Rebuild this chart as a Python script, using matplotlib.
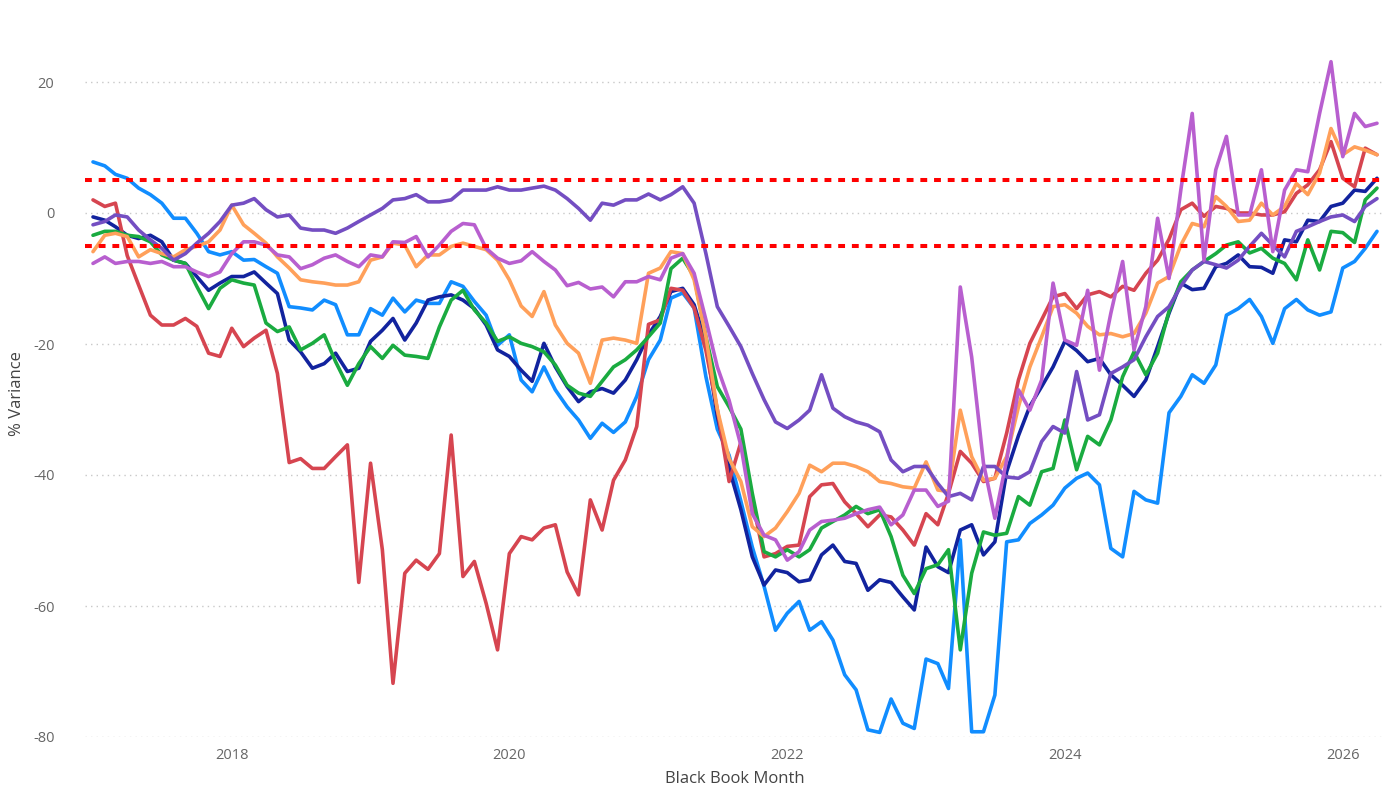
import matplotlib
matplotlib.use('Agg')
import matplotlib.pyplot as plt
import matplotlib.dates as mdates
import pandas as pd

months = pd.date_range('2017-01-01', periods=112, freq='MS')

light_blue = [7.8, 7.2, 5.9, 5.3, 3.8, 2.8, 1.5, -0.8, -0.8, -3.1, -5.9, -6.4, -5.9, -7.2, -7.1, -8.2,
              -9.2, -14.3, -14.5, -14.8, -13.3, -14.0, -18.6, -18.6, -14.6, -15.6, -13.0, -15.1, -13.3, -13.8,
              -13.8, -10.5, -11.2, -13.5, -15.6, -20.2, -18.6, -25.5, -27.3, -23.5, -27.0, -29.6, -31.6, -34.4,
              -32.1, -33.5, -31.9, -28.0, -22.4, -19.4, -13.0, -12.2, -14.5, -25.0, -33.0, -37.0, -44.0, -51.0,
              -57.0, -63.7, -61.1, -59.3, -63.7, -62.4, -65.2, -70.5, -72.8, -78.9, -79.3, -74.2, -77.9, -78.7,
              -68.1, -68.8, -72.6, -49.9, -79.2, -79.2, -73.6, -50.2, -49.9, -47.4, -46.1, -44.6, -42.0, -40.5,
              -39.7, -41.5, -51.2, -52.5, -42.5, -43.8, -44.3, -30.5, -28.0, -24.7, -26.0, -23.2, -15.6, -14.6,
              -13.2, -15.8, -19.9, -14.6, -13.2, -14.8, -15.6, -15.1, -8.4, -7.4, -5.4, -2.8]

navy = [-0.6, -1.1, -2.1, -3.4, -3.9, -3.4, -4.4, -7.2, -7.7, -9.7, -11.8, -10.7, -9.7, -9.7, -9.0, -10.7,
        -12.3, -19.4, -21.2, -23.7, -23.0, -21.4, -24.2, -23.7, -19.6, -17.9, -16.1, -19.4, -16.8, -13.3,
        -12.8, -12.5, -13.3, -14.6, -17.1, -20.9, -21.9, -24.0, -25.7, -19.9, -23.5, -26.5, -28.8, -27.3,
        -26.8, -27.5, -25.5, -22.4, -18.6, -15.8, -12.0, -11.5, -14.0, -19.9, -31.0, -39.0, -45.3, -52.5,
        -56.8, -54.5, -54.9, -56.3, -56.0, -52.2, -50.7, -53.2, -53.5, -57.6, -56.0, -56.4, -58.6, -60.6,
        -51.0, -54.0, -54.9, -48.4, -47.6, -52.2, -50.2, -39.5, -34.0, -29.5, -26.5, -23.5, -19.6, -21.0,
        -22.7, -22.2, -24.7, -26.3, -28.0, -25.5, -20.4, -15.3, -10.7, -11.7, -11.5, -8.2, -7.7, -6.4,
        -8.2, -8.3, -9.2, -4.1, -4.4, -1.1, -1.3, 1.0, 1.5, 3.5, 3.3, 5.3]

green = [-3.4, -2.8, -2.8, -3.4, -3.6, -4.4, -6.4, -7.2, -7.7, -11.2, -14.6, -11.5, -10.2, -10.7, -11.0, -16.8,
         -18.1, -17.4, -20.9, -19.9, -18.6, -22.7, -26.3, -23.0, -20.4, -22.2, -20.2, -21.7, -21.9, -22.2,
         -17.4, -13.3, -11.8, -14.8, -16.8, -19.6, -18.9, -19.9, -20.4, -21.2, -23.2, -26.3, -27.5, -28.0,
         -25.7, -23.5, -22.4, -20.9, -18.9, -16.8, -8.5, -6.9, -9.7, -18.9, -26.5, -29.6, -33.0, -42.8,
         -51.7, -52.5, -51.4, -52.5, -51.4, -48.1, -47.1, -46.1, -44.8, -45.9, -45.3, -49.4, -55.3, -58.1,
         -54.3, -53.7, -51.4, -66.7, -55.0, -48.7, -49.2, -48.9, -43.3, -44.6, -39.5, -39.0, -31.6, -39.2,
         -34.1, -35.4, -31.6, -25.0, -21.2, -24.7, -21.4, -15.0, -10.5, -8.7, -7.4, -6.2, -4.9, -4.4,
         -6.1, -5.4, -6.9, -7.7, -10.2, -4.1, -8.7, -2.8, -3.0, -4.5, 2.0, 3.8]

red = [2.0, 1.0, 1.5, -6.5, -11.0, -15.6, -17.1, -17.1, -16.1, -17.3, -21.4, -21.9, -17.6, -20.4, -19.1, -17.9,
       -24.5, -38.1, -37.5, -39.0, -39.0, -37.2, -35.4, -56.4, -38.2, -51.4, -71.8, -55.0, -53.0, -54.4,
       -52.0, -33.9, -55.5, -53.2, -59.6, -66.7, -52.0, -49.4, -49.9, -48.1, -47.6, -54.8, -58.3, -43.8,
       -48.4, -40.8, -37.7, -32.6, -17.0, -16.3, -11.5, -11.8, -14.5, -21.0, -30.0, -41.0, -35.0, -44.0,
       -52.5, -52.0, -50.9, -50.7, -43.3, -41.5, -41.3, -44.1, -45.9, -47.9, -46.1, -46.4, -48.4, -50.7,
       -45.9, -47.6, -42.8, -36.4, -38.2, -41.0, -40.5, -33.6, -25.5, -19.9, -16.3, -12.8, -12.3, -14.6,
       -12.5, -12.0, -12.8, -11.2, -11.8, -9.2, -7.2, -4.0, 0.5, 1.5, -0.5, 1.0, 0.7, 0.0,
       0.0, -0.3, -0.3, 0.2, 3.0, 4.3, 6.6, 10.9, 5.3, 4.0, 9.9, 8.9]

orange = [-5.9, -3.4, -3.1, -3.6, -6.7, -5.6, -6.2, -6.7, -5.6, -5.1, -4.4, -2.6, 1.2, -1.8, -3.1, -4.6,
          -6.7, -8.4, -10.2, -10.5, -10.7, -11.0, -11.0, -10.5, -7.2, -6.7, -4.6, -4.9, -8.2, -6.4,
          -6.4, -5.1, -4.6, -5.1, -5.6, -7.2, -10.2, -14.2, -15.8, -12.0, -17.1, -19.9, -21.4, -26.0,
          -19.4, -19.1, -19.4, -19.9, -9.2, -8.4, -5.9, -6.2, -10.2, -18.9, -30.0, -37.5, -41.0, -47.9,
          -49.4, -48.1, -45.6, -42.8, -38.5, -39.5, -38.2, -38.2, -38.7, -39.5, -41.0, -41.3, -41.8, -42.0,
          -38.0, -42.3, -42.5, -30.1, -37.2, -40.8, -40.5, -37.2, -29.6, -23.5, -18.9, -14.3, -14.0, -15.3,
          -17.3, -18.6, -18.4, -18.9, -18.4, -15.3, -10.7, -9.7, -4.9, -1.6, -2.1, 2.5, 1.0, -1.3,
          -1.1, 1.5, -0.3, 1.0, 4.5, 2.8, 6.1, 12.9, 8.9, 10.1, 9.6, 8.9]

purple = [-1.8, -1.3, -0.3, -0.6, -2.6, -4.1, -5.4, -7.2, -6.2, -4.6, -3.1, -1.3, 1.2, 1.5, 2.2, 0.5,
          -0.6, -0.3, -2.3, -2.6, -2.6, -3.1, -2.3, -1.3, -0.3, 0.7, 2.0, 2.2, 2.8, 1.7,
          1.7, 2.0, 3.5, 3.5, 3.5, 4.0, 3.5, 3.5, 3.8, 4.1, 3.5, 2.2, 0.7, -1.1,
          1.5, 1.2, 2.0, 2.0, 2.9, 2.0, 2.8, 4.0, 1.5, -6.2, -14.3, -17.3, -20.4, -24.5,
          -28.5, -31.9, -32.9, -31.6, -30.1, -24.7, -29.8, -31.1, -31.9, -32.4, -33.4, -37.7, -39.5, -38.7,
          -38.7, -41.3, -43.3, -42.8, -43.8, -38.7, -38.7, -40.3, -40.5, -39.5, -34.9, -32.6, -33.6, -24.2,
          -31.6, -30.8, -24.5, -23.5, -22.4, -18.9, -15.8, -14.3, -11.2, -8.7, -7.4, -7.9, -8.4, -7.2,
          -5.1, -3.1, -4.9, -6.7, -2.8, -2.1, -1.3, -0.6, -0.3, -1.3, 1.0, 2.2]

magenta = [-7.7, -6.7, -7.7, -7.4, -7.4, -7.7, -7.4, -8.2, -8.2, -9.0, -9.7, -9.0, -6.2, -4.4, -4.4, -4.9,
           -6.4, -6.7, -8.5, -7.9, -6.9, -6.4, -7.4, -8.2, -6.4, -6.7, -4.4, -4.5, -3.6, -6.7,
           -4.9, -2.8, -1.6, -1.8, -5.4, -6.9, -7.7, -7.3, -5.9, -7.4, -8.7, -11.1, -10.6, -11.6,
           -11.3, -12.8, -10.5, -10.5, -9.7, -10.2, -6.9, -6.2, -9.2, -16.3, -23.5, -28.6, -35.5, -45.9,
           -49.2, -49.9, -53.0, -51.7, -48.4, -47.1, -46.9, -46.6, -45.9, -45.3, -44.9, -47.6, -46.1, -42.3,
           -42.3, -44.8, -44.0, -11.3, -22.0, -38.2, -46.6, -37.7, -27.0, -30.1, -25.5, -10.7, -19.4, -20.2,
           -11.8, -24.0, -15.3, -7.4, -20.9, -14.3, -0.8, -10.0, 3.5, 15.2, -7.2, 6.6, 11.7, -0.3,
           -0.3, 6.6, -5.9, 3.5, 6.6, 6.3, 15.2, 23.1, 8.6, 15.2, 13.2, 13.7]

series = [
    (light_blue, '#118DFF'),
    (navy, '#12239E'),
    (red, '#D64550'),
    (green, '#1AAB40'),
    (orange, '#FFA05A'),
    (purple, '#744EC2'),
    (magenta, '#B85FCF'),
]

plt.rcParams['font.family'] = ['Open Sans', 'DejaVu Sans']
plt.rcParams['axes.unicode_minus'] = False

fig = plt.figure(figsize=(13.91, 7.92), dpi=100)
ax = fig.add_axes([85 / 1391, 55 / 792, 1300 / 1391, 687.75 / 792])

for vals, col in series:
    ax.plot(months, vals, color=col, linewidth=2.6, solid_joinstyle='round', solid_capstyle='round')

ax.axhline(5, color='#FF0000', linewidth=2.9, linestyle=(0, (1.7, 1.7)), zorder=5)
ax.axhline(-5, color='#FF0000', linewidth=2.9, linestyle=(0, (1.7, 1.7)), zorder=5)

d0 = mdates.date2num(months[0])
d1 = mdates.date2num(months[-1])
per_px = (d1 - d0) / 1284
ax.set_xlim(d0 - 8 * per_px, d1 + 8 * per_px)
ax.set_ylim(-80, 25)

ax.set_yticks([-80, -60, -40, -20, 0, 20])
ax.set_xticks([mdates.date2num(pd.Timestamp(f'{y}-01-01')) for y in range(2018, 2027, 2)])
ax.xaxis.set_major_formatter(mdates.DateFormatter('%Y'))

ax.grid(axis='y', color='#C8C8C8', linestyle=(0, (1, 3)), linewidth=1)
ax.set_axisbelow(True)
for s in ax.spines.values():
    s.set_visible(False)
ax.tick_params(axis='both', length=0, labelsize=10.5, labelcolor='#666666')
ax.tick_params(axis='y', pad=22)
ax.tick_params(axis='x', pad=8)

ax.set_xlabel('Black Book Month', fontsize=12, color='#444444', labelpad=6)
ax.set_ylabel('% Variance', fontsize=12, color='#444444', labelpad=6)

fig.savefig('out.png', dpi=100)
